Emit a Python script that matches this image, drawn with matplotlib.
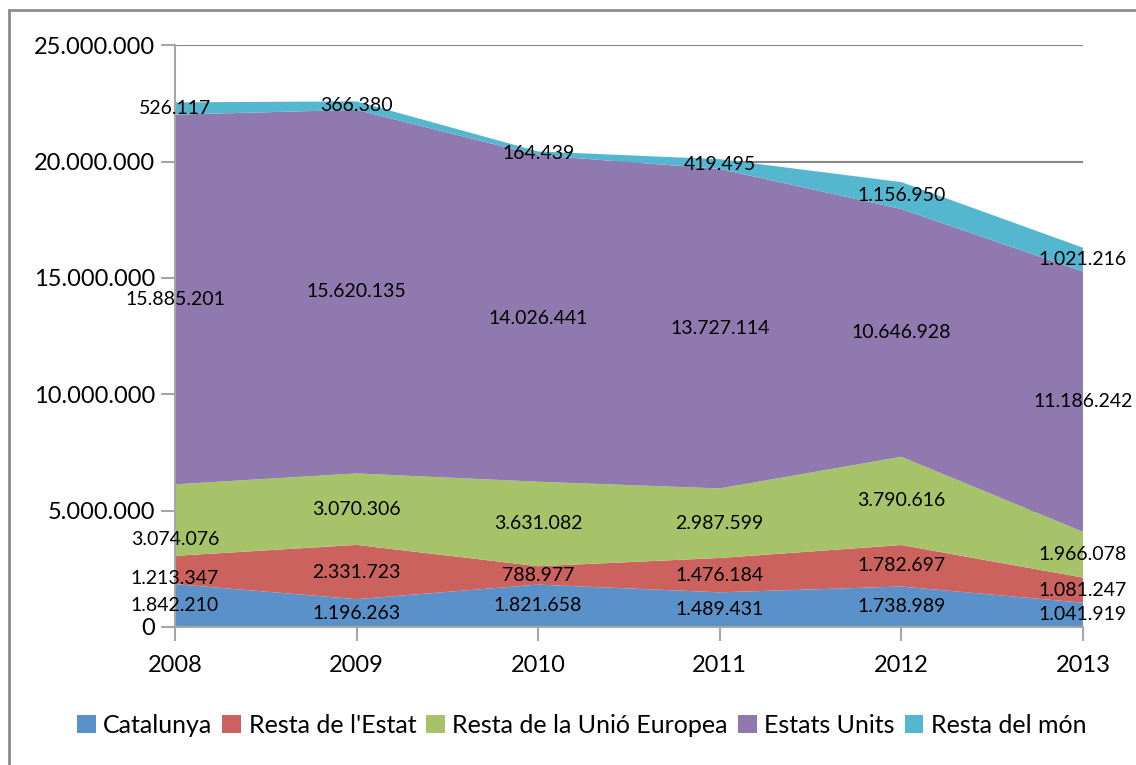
import numpy as np
import matplotlib
matplotlib.use("Agg")
from matplotlib import pyplot as plt
from matplotlib.patches import Rectangle, Patch

plt.rcParams['font.family'] = ['Lato', 'DejaVu Sans']

years = ['2008', '2009', '2010', '2011', '2012', '2013']
series_names = ['Catalunya', "Resta de l'Estat", 'Resta de la Unió Europea',
                'Estats Units', 'Resta del món']
catalunya = [1842210, 1196263, 1821658, 1489431, 1738989, 1041919]
resta_estat = [1213347, 2331723, 788977, 1476184, 1782697, 1081247]
resta_ue = [3074076, 3070306, 3631082, 2987599, 3790616, 1966078]
estats_units = [15885201, 15620135, 14026441, 13727114, 10646928, 11186242]
resta_mon = [526117, 366380, 164439, 419495, 1156950, 1021216]
yticks = [0, 5000000, 10000000, 15000000, 20000000, 25000000]
colors = ['#5B91C9', '#CC625E', '#A7C36A', '#9079AE', '#55B7CF']

def fmt(v):
    return '{:,}'.format(v).replace(',', '.')

data = np.array([catalunya, resta_estat, resta_ue, estats_units, resta_mon], dtype=float)
x = np.arange(len(years))

fig = plt.figure(figsize=(11.36, 7.65), dpi=100)
ax = fig.add_axes([0.154, 0.1804, 0.7993, 0.7606])

ax.stackplot(x, data, colors=colors, zorder=2)

# labels sit mid-band; a couple at 2008 are nudged down like Excel does
nudge = {(2, 0): -830000, (1, 0): -350000}
cum = np.cumsum(data, axis=0)
for i in range(data.shape[0]):
    for j in range(data.shape[1]):
        mid = cum[i, j] - data[i, j] / 2 + nudge.get((i, j), 0)
        ax.text(x[j], mid, fmt(int(data[i, j])), ha='center', va='center',
                fontsize=14, color='black', zorder=5, clip_on=False)

ax.set_xlim(0, len(years) - 1)
ax.set_ylim(0, 25000000)
ax.set_yticks(yticks)
ax.set_yticklabels([fmt(v) for v in yticks])
ax.set_xticks(x)
ax.set_xticklabels(years)
ax.yaxis.grid(True, color='#868686', linewidth=1.5, zorder=0)
ax.set_axisbelow(True)

for s in ['top', 'right']:
    ax.spines[s].set_visible(False)
for s in ['left', 'bottom']:
    ax.spines[s].set_color('#A6A6A6')
    ax.spines[s].set_linewidth(1.5)
ax.tick_params(axis='both', direction='out', length=10, width=1.5,
               color='#A6A6A6', labelsize=17, pad=4)
ax.tick_params(axis='x', pad=10)

handles = [Patch(facecolor=c, edgecolor='none') for c in colors]
fig.legend(handles, series_names, loc='center', bbox_to_anchor=(0.512, 0.052),
           ncol=5, frameon=False, fontsize=18, handlelength=0.75, handleheight=0.75,
           handletextpad=0.3, columnspacing=0.4)

# chart border (partly cut off)
fig.patches.append(Rectangle((9 / 1136, -0.1), 1.2, 1 - 10 / 765 + 0.1,
                             transform=fig.transFigure, fill=False,
                             edgecolor='#8C8C8C', linewidth=2))

fig.savefig('out.png', dpi=100)
